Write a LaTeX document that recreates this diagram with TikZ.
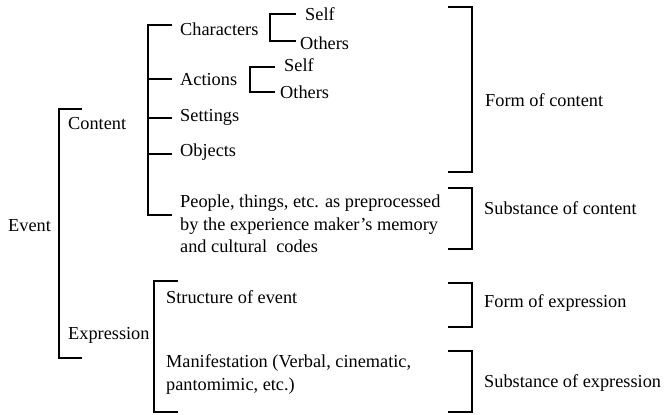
\documentclass[tikz,border=0pt]{standalone}
\usepackage{fontspec}
\setmainfont{Liberation Serif}
\begin{document}
\begin{tikzpicture}[x=1pt,y=-1pt,
  lbl/.style={anchor=west,inner sep=0pt,font=\fontsize{18.3}{22.5}\selectfont,align=left},
  brk/.style={line width=1.6pt}]
\useasboundingbox (0,0) rectangle (665,415);
% left brackets
\draw[brk] (82,109) -- (59,109) -- (59,358) -- (82,358);
\node[lbl] (event) at (8,226) {Event};
\node[lbl] (content) at (68,124) {Content};
\node[lbl] (expression) at (68,335) {Expression};
% content bracket
\draw[brk] (172,25) -- (148,25) -- (148,215) -- (172,215);
\draw[brk] (148,79) -- (172,79);
\draw[brk] (148,118) -- (172,118);
\draw[brk] (148,154) -- (172,154);
\node[lbl] (characters) at (180,29) {Characters};
\node[lbl] (actions) at (180,80) {Actions};
\node[lbl] (settings) at (180,117) {Settings};
\node[lbl] (objects) at (180,152) {Objects};
\node[lbl] (people) at (180,224) {People, things, etc. as preprocessed\\by the experience maker’s memory\\and cultural\ \ codes};
% characters sub bracket
\draw[brk] (296,14) -- (270,14) -- (270,41) -- (296,41);
\node[lbl] (cself) at (305,14) {Self};
\node[lbl] (cothers) at (300,43) {Others};
% actions sub bracket
\draw[brk] (275,67) -- (250,67) -- (250,93);
\draw[brk] (250,92) -- (275,92);
\node[lbl] (aself) at (284,65) {Self};
\node[lbl] (aothers) at (280,92) {Others};
% expression bracket
\draw[brk] (178,281) -- (154,281) -- (154,412) -- (178,412);
\node[lbl] (structure) at (166,297) {Structure of event};
\node[lbl] (manif) at (166,374.5) {Manifestation (Verbal, cinematic,\\pantomimic, etc.)};
% right brackets
\draw[brk] (448,7) -- (472,7) -- (472,172) -- (448,172);
\node[lbl] (formc) at (485,100) {Form of content};
\draw[brk] (448,188) -- (472,188) -- (472,249) -- (448,249);
\node[lbl] (subc) at (484,208) {Substance of content};
\draw[brk] (448,283) -- (472,283) -- (472,327) -- (448,327);
\node[lbl] (forme) at (484,303) {Form of expression};
\draw[brk] (448,351) -- (472,351) -- (472,412) -- (448,412);
\node[lbl] (sube) at (484,383) {Substance of expression};
\end{tikzpicture}
\end{document}
